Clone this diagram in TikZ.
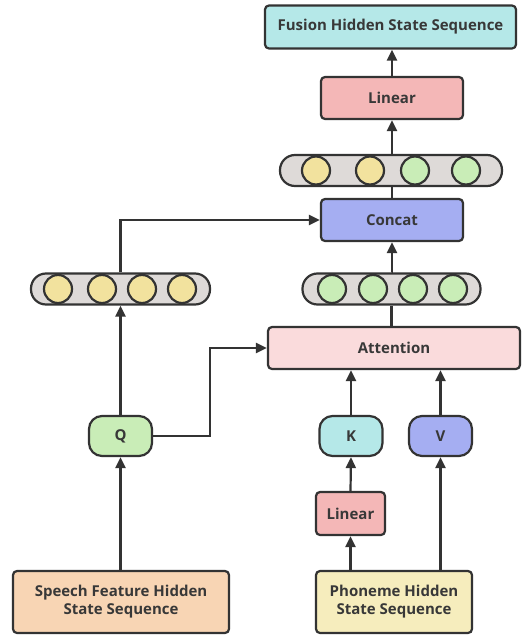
\documentclass[tikz,border=0pt]{standalone}
\usepackage{fontspec}
\setmainfont{Open Sans}
\usetikzlibrary{arrows.meta}
\definecolor{ink}{HTML}{333333}
\definecolor{txt}{HTML}{383838}
\definecolor{cyanfill}{HTML}{B5E8E8}
\definecolor{redfill}{HTML}{F4B7B7}
\definecolor{bluefill}{HTML}{A5AEF2}
\definecolor{attfill}{HTML}{FADBDC}
\definecolor{greenfill}{HTML}{C9EDB7}
\definecolor{yellowfill}{HTML}{F2E29E}
\definecolor{grayfill}{HTML}{DEDAD8}
\definecolor{orangefill}{HTML}{F8D5B4}
\definecolor{creamfill}{HTML}{F6EDBD}
\tikzset{
  every node/.style={font=\bfseries\fontsize{15}{18}\selectfont, text=txt},
  box/.style={draw=ink, line width=2.2pt, rounded corners=4pt, inner sep=0pt, align=center},
  pill/.style={draw=ink, line width=2.2pt, rounded corners=13pt, inner sep=0pt,
    minimum width=63pt, minimum height=40pt},
  capsule/.style={draw=ink, line width=2.2pt, fill=grayfill, rounded corners=15pt,
    inner sep=0pt, minimum height=31pt},
  dot/.style={circle, draw=ink, line width=2.2pt, minimum size=28pt, inner sep=0pt},
  arr/.style={draw=ink, line width=2.2pt, -{Triangle[length=11pt,width=10pt]}},
  line/.style={draw=ink, line width=2.2pt}
}
\begin{document}
\begin{tikzpicture}[x=1pt, y=-1pt]
\useasboundingbox (0,0) rectangle (522,637);

% upper branch
\node[box, fill=cyanfill, minimum width=251pt, minimum height=43pt] (fusion) at (390.5,27) {Fusion Hidden State Sequence};
\node[box, fill=redfill, minimum width=142pt, minimum height=42pt] (lintop) at (392,98) {Linear};
\node[capsule, minimum width=222pt] (tseq) at (391,170.5) {};
\node[dot, fill=yellowfill] (t1) at (316,170.5) {};
\node[dot, fill=yellowfill] (t2) at (370,170.5) {};
\node[dot, fill=greenfill] (t3) at (415,170.5) {};
\node[dot, fill=greenfill] (t4) at (466,170.5) {};
\node[box, fill=bluefill, minimum width=142pt, minimum height=42pt] (concat) at (392,220) {Concat};

% hidden-state rows
\node[capsule, minimum width=179pt] (lseq) at (120.5,289) {};
\node[dot, fill=yellowfill] (l1) at (58,289) {};
\node[dot, fill=yellowfill] (l2) at (102,289) {};
\node[dot, fill=yellowfill] (l3) at (142,289) {};
\node[dot, fill=yellowfill] (l4) at (182,289) {};
\node[capsule, minimum width=178pt] (rseq) at (391.5,289) {};
\node[dot, fill=greenfill] (r1) at (332,289) {};
\node[dot, fill=greenfill] (r2) at (373,289) {};
\node[dot, fill=greenfill] (r3) at (413,289) {};
\node[dot, fill=greenfill] (r4) at (453,289) {};

\node[box, fill=attfill, minimum width=252pt, minimum height=42pt] (att) at (394,348) {Attention};

% query / key / value
\node[pill, fill=greenfill] (Q) at (120.5,436) {Q};
\node[pill, fill=cyanfill] (K) at (351,436) {K};
\node[pill, fill=bluefill] (V) at (440.5,436) {V};
\node[box, fill=redfill, minimum width=69pt, minimum height=43pt] (linbot) at (350.5,513.5) {Linear};

% inputs
\node[box, fill=orangefill, minimum width=216pt, minimum height=62pt] (speech) at (121,602) {Speech Feature Hidden\\State Sequence};
\node[box, fill=creamfill, minimum width=156pt, minimum height=62pt] (phon) at (394,602) {Phoneme Hidden\\State Sequence};

% connectors
\draw[arr] (Q.south |- speech.north) -- (Q.south);
\draw[arr] (Q.north) -- (lseq.south);
\draw[arr] (lseq.north) |- (concat.west);
\draw[arr] (Q.east) -- ++(57,0) |- (att.west);
\draw[arr] (linbot.south |- phon.north) -- (linbot.south);
\draw[arr] (linbot.north) -- (K.south);
\draw[arr] (V.south |- phon.north) -- (V.south);
\draw[arr] (K.north) -- (K.north |- att.south);
\draw[arr] (V.north) -- (V.north |- att.south);
\draw[line] (rseq.south |- att.north) -- (rseq.south);
\draw[arr] (rseq.north) -- (rseq.north -| concat.south) -- (concat.south);
\draw[line] (concat.north) -- (concat.north |- tseq.south);
\draw[arr] (tseq.north -| lintop.south) -- (lintop.south);
\draw[arr] (lintop.north) -- (lintop.north |- fusion.south);
\end{tikzpicture}
\end{document}
